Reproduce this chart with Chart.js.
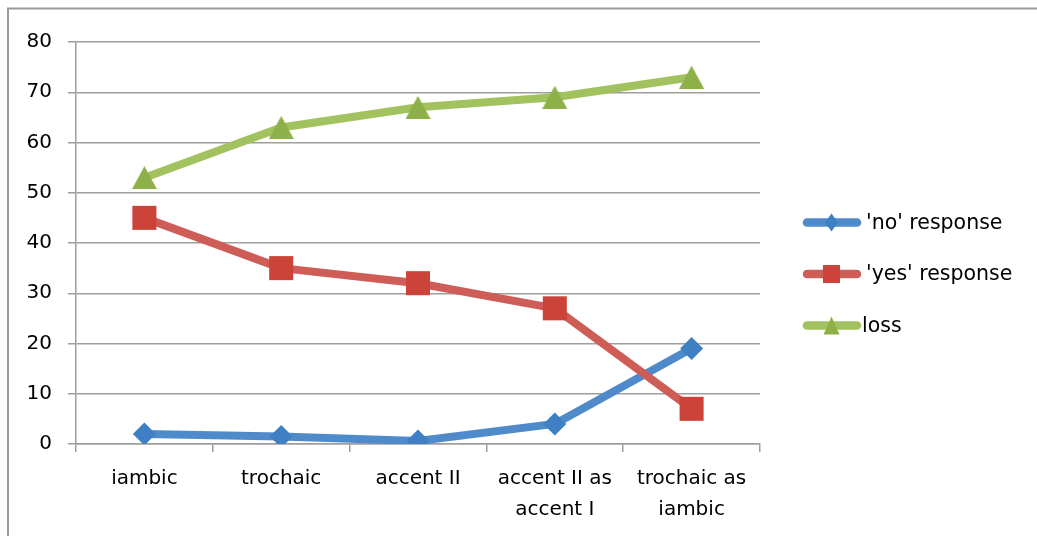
<!DOCTYPE html>
<html><head><meta charset="utf-8">
<script src="https://cdn.jsdelivr.net/npm/chart.js@4"></script>
<style>html,body{margin:0;padding:0;background:#fff;overflow:hidden}canvas{display:block}</style>
</head><body>
<canvas id="c" width="1037" height="536"></canvas>
<script>
// ---- data ----
const categories = ['iambic', 'trochaic', 'accent II', ['accent II as', 'accent I'], ['trochaic as', 'iambic']];
const noResponse = [2, 1.5, 0.6, 4, 19];
const yesResponse = [45, 35, 32, 27, 7];
const loss = [53, 63, 67, 69, 73];
const seriesNames = ["'no' response", "'yes' response", 'loss'];
const yMin = 0, yMax = 80, yStep = 10;

const FONT = '"DejaVu Sans", sans-serif';

// centred triangle marker image
function triImage(w, h, color) {
  const c = document.createElement('canvas');
  c.width = w; c.height = h;
  const g = c.getContext('2d');
  g.fillStyle = color;
  g.beginPath();
  g.moveTo(w / 2, 0); g.lineTo(w, h); g.lineTo(0, h);
  g.closePath(); g.fill();
  return c;
}
const triMarker = triImage(25, 23, '#8DB048');

const frame = {
  id: 'frame',
  beforeDraw(chart) {
    const ctx = chart.ctx;
    ctx.save();
    ctx.fillStyle = '#fff';
    ctx.fillRect(0, 0, chart.width, chart.height);
    ctx.strokeStyle = '#9a9a9a';
    ctx.lineWidth = 2;
    ctx.beginPath();
    ctx.moveTo(8, chart.height);
    ctx.lineTo(8, 8.5);
    ctx.lineTo(chart.width, 8.5);
    ctx.stroke();
    ctx.restore();
  }
};

function marker(ctx, kind, x, y, fill) {
  ctx.fillStyle = fill;
  ctx.beginPath();
  if (kind === 0) {
    ctx.moveTo(x, y - 9); ctx.lineTo(x + 6.5, y); ctx.lineTo(x, y + 9); ctx.lineTo(x - 6.5, y);
  } else if (kind === 1) {
    ctx.rect(x - 8.5, y - 9, 17, 18);
  } else {
    ctx.moveTo(x, y - 9); ctx.lineTo(x + 8, y + 9); ctx.lineTo(x - 8, y + 9);
  }
  ctx.closePath();
  ctx.fill();
}

const legendPlugin = {
  id: 'customLegend',
  afterDraw(chart) {
    const ctx = chart.ctx;
    ctx.save();
    chart.data.datasets.forEach((ds, i) => {
      const y = 222.5 + i * 51.5;
      ctx.strokeStyle = ds.borderColor;
      ctx.lineWidth = 8.5;
      ctx.lineCap = 'round';
      ctx.beginPath();
      ctx.moveTo(807, y); ctx.lineTo(857, y); ctx.stroke();
      marker(ctx, i, 831.5, y, ds.pointBorderColor);
      ctx.fillStyle = '#000';
      ctx.font = '20.5px ' + FONT;
      ctx.textBaseline = 'middle';
      ctx.textAlign = 'left';
      ctx.fillText(ds.label, i === 2 ? 862 : 866, y + 1);
    });
    ctx.restore();
  }
};

new Chart(document.getElementById('c'), {
  type: 'line',
  data: {
    labels: categories,
    datasets: [
      { label: seriesNames[0], data: noResponse, borderColor: '#4F8BCB', pointBackgroundColor: '#3F7FC4',
        pointBorderColor: '#3F7FC4', pointStyle: 'rectRot', pointRadius: 11.5, order: 2 },
      { label: seriesNames[1], data: yesResponse, borderColor: '#CE5D57', pointBackgroundColor: '#CC4339',
        pointBorderColor: '#CC4339', pointStyle: 'rect', pointRadius: 17, order: 1 },
      { label: seriesNames[2], data: loss, borderColor: '#A2C25F', pointBackgroundColor: '#8DB048',
        pointBorderColor: '#8DB048', pointStyle: triMarker, pointRadius: 13, order: 0 }
    ].map(d => Object.assign({ borderWidth: 8, tension: 0, borderCapStyle: 'round', borderJoinStyle: 'round',
      pointBorderWidth: 0, pointHoverRadius: d.pointRadius }, d))
  },
  options: {
    responsive: false,
    animation: false,
    devicePixelRatio: 1,
    layout: { padding: { top: 42, right: 277, bottom: 0, left: 0 } },
    plugins: { legend: { display: false }, tooltip: { enabled: false } },
    scales: {
      x: {
        offset: true,
        grid: { display: true, drawOnChartArea: false, drawTicks: true, tickLength: 8, offset: true,
          color: '#9e9e9e', lineWidth: 1.5 },
        border: { display: true, color: '#9e9e9e', width: 1.5 },
        ticks: { color: '#000', font: { family: FONT, size: 20, lineHeight: 1.55 }, padding: 11, maxRotation: 0, autoSkip: false },
        afterFit(s) { s.height = 92; }
      },
      y: {
        min: yMin, max: yMax,
        grid: { color: '#9e9e9e', lineWidth: 1.5, tickLength: 8 },
        border: { display: true, color: '#9e9e9e', width: 1.5 },
        ticks: { stepSize: yStep, color: '#000', font: { family: FONT, size: 20 }, padding: 16 },
        afterFit(s) { s.width = 76; }
      }
    }
  },
  plugins: [frame, legendPlugin]
});
</script>
</body></html>
